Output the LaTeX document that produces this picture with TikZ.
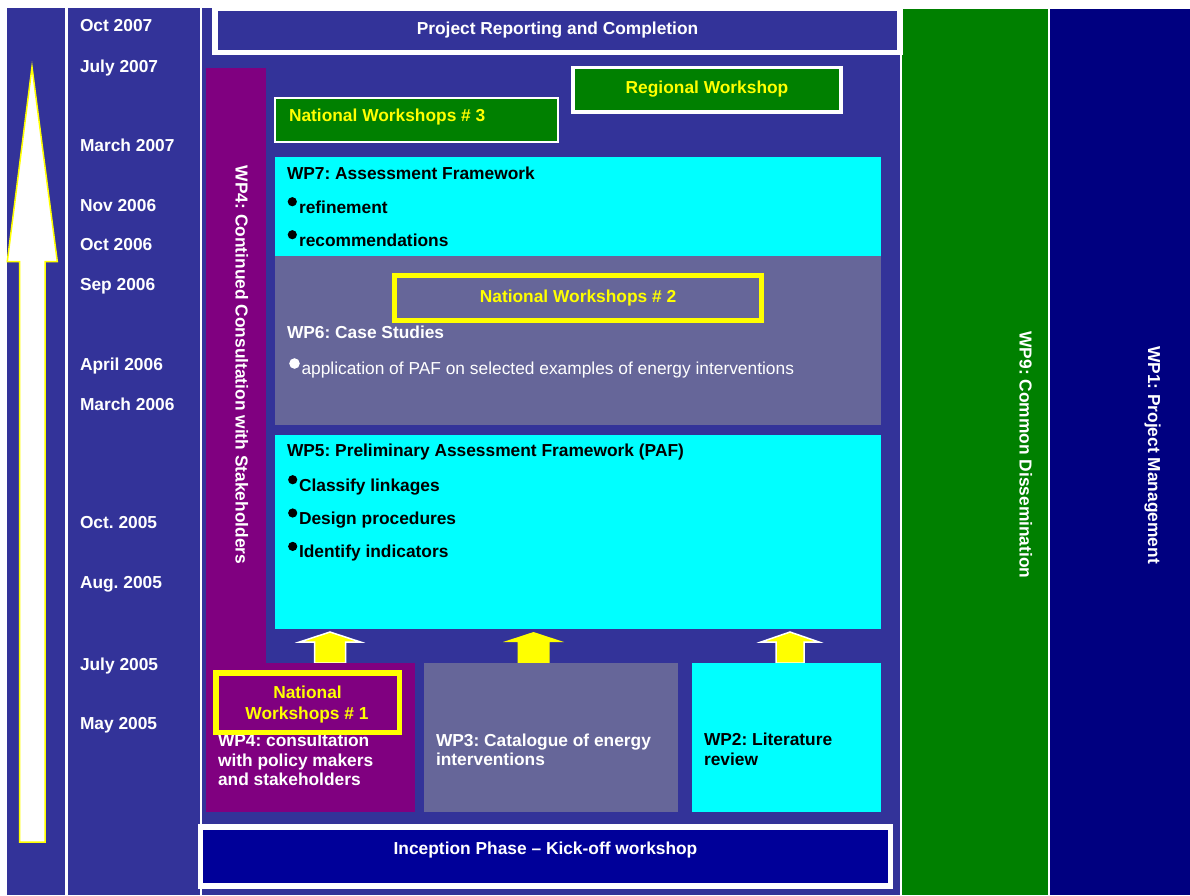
\documentclass[tikz,border=0pt]{standalone}
\usepackage{fontspec}
\setmainfont{Liberation Sans}
\usetikzlibrary{fit}

\definecolor{band}{HTML}{333399}
\definecolor{wppurple}{HTML}{800080}
\definecolor{wpcyan}{HTML}{00FFFF}
\definecolor{wpgrey}{HTML}{666699}
\definecolor{wpgreen}{HTML}{008000}
\definecolor{wpnavy}{HTML}{000080}
\definecolor{kickoff}{HTML}{000099}
\definecolor{hilite}{HTML}{FFFF00}

% upward block arrow: centre x, half head width, half shaft width, style
\newcommand\blockup[4]{%
  \filldraw[#4] (#1-#3,663) -- (#1-#3,642) -- (#1-#2,642) -- (#1,632)
    -- (#1+#2,642) -- (#1+#3,642) -- (#1+#3,663) -- cycle;}

\newcommand\labelsize{\fontsize{17.35}{20}\selectfont}

\begin{document}
\frenchspacing
\begin{tikzpicture}[x=1pt,y=-1pt,
  every node/.style={inner sep=0pt, outer sep=0pt},
  area/.style={fill=#1},
  lbl/.style={font=\labelsize\bfseries, text=white},
  dark/.style={font=\labelsize\bfseries, text=black},
  plain/.style={font=\labelsize, text=white},
  event/.style={font=\labelsize\bfseries, text=hilite},
  datelbl/.style={lbl, anchor=base west},
  vertlbl/.style={lbl, rotate=-90, anchor=base},
  ringbox/.style={draw=hilite, line width=5.5pt, fill=#1},
  flowarrow/.style={fill=hilite, draw=white, line width=1.5pt},
  flowarrowplain/.style={fill=hilite, draw=none},
  dot/.style={fill=#1}
]
\useasboundingbox[fill=white] (0,0) rectangle (1190,895);

% vertical bands
\node[fit={(7,8) (65,895)}, area=band] (arrowcol) {};
\node[fit={(68,8) (200,895)}, area=band] (datecol) {};
\node[fit={(202,8) (900,895)}, area=band] (maincol) {};
\node[fit={(902,9) (1048,895)}, area=wpgreen] (wp9) {};
\node[fit={(1050,9) (1190,895)}, area=wpnavy] (wp1) {};

% time arrow
\filldraw[fill=white, draw=hilite, line width=1.5pt]
  (32,67) -- (57.3,261.5) -- (45,261.5) -- (45,842) -- (19.5,842)
  -- (19.5,261.5) -- (7.3,261.5) -- cycle;

% dates
\node[datelbl] (d1)  at (80,31.5)  {Oct 2007};
\node[datelbl] (d2)  at (80,72)    {July 2007};
\node[datelbl] (d3)  at (80,151.5) {March 2007};
\node[datelbl] (d4)  at (80,211)   {Nov 2006};
\node[datelbl] (d5)  at (80,250.5) {Oct 2006};
\node[datelbl] (d6)  at (80,290.5) {Sep 2006};
\node[datelbl] (d7)  at (80,370.5) {April 2006};
\node[datelbl] (d8)  at (80,410.5) {March 2006};
\node[datelbl] (d9)  at (80,528.5) {Oct. 2005};
\node[datelbl] (d10) at (80,588.5) {Aug. 2005};
\node[datelbl] (d11) at (80,670)   {July 2005};
\node[datelbl] (d12) at (80,729)   {May 2005};

% reporting
\node[fit={(212,8) (903,55)}, area=white] (reportframe) {};
\node[fit={(218,11) (897,50)}, area=band] (report) {};
\node[lbl, anchor=base] (reporttxt) at (557.5,34) {Project Reporting and Completion};

% workshops near the end
\node[fit={(571,66) (843,114)}, area=white] (regframe) {};
\node[fit={(575,69) (839,110)}, area=wpgreen] (regional) {};
\node[event, anchor=base] (regtxt) at (707,93) {Regional Workshop};

\node[fit={(274,97) (559,143)}, area=white] (nw3frame) {};
\node[fit={(276,99) (557,141)}, area=wpgreen] (nw3) {};
\node[event, anchor=base west] (nw3txt) at (289,121.5) {National Workshops \# 3};

% WP4 consultation band
\node[fit={(206,68) (266,664)}, area=wppurple] (wp4bar) {};
\node[vertlbl] (wp4vert) at (235.5,365) {WP4: Continued Consultation with Stakeholders};

% WP7
\node[fit={(275,157) (881,256)}, area=wpcyan] (wp7) {};
\node[dark, anchor=base west] (wp7t) at (287,179) {WP7: Assessment Framework};
\fill[dot=black] (292.3,201.7) circle (4.6);
\node[dark, anchor=base west] (wp7a) at (299,213) {refinement};
\fill[dot=black] (292.3,234.7) circle (4.6);
\node[dark, anchor=base west] (wp7b) at (299,246) {recommendations};

% WP6
\node[fit={(275,256) (881,425)}, area=wpgrey] (wp6) {};
\node[fit={(394.5,275.5) (761.5,320.5)}, ringbox=wpgrey, line width=5pt] (nw2) {};
\node[event, anchor=base] (nw2txt) at (578,302.5) {National Workshops \# 2};
\node[lbl, anchor=base west] (wp6t) at (287,338) {WP6: Case Studies};
\fill[dot=white] (294.5,363.5) circle (5.3);
\node[plain, anchor=base west] (wp6a) at (301.5,374) {application of PAF on selected examples of energy interventions};

% WP5
\node[fit={(275,435) (881,629)}, area=wpcyan] (wp5) {};
\node[dark, anchor=base west] (wp5t) at (287,456.7) {WP5: Preliminary Assessment Framework (PAF)};
\fill[dot=black] (292.7,479.7) circle (4.6);
\node[dark, anchor=base west] (wp5a) at (299,491) {Classify linkages};
\fill[dot=black] (292.7,513) circle (4.6);
\node[dark, anchor=base west] (wp5b) at (299,524.3) {Design procedures};
\fill[dot=black] (292.7,546.4) circle (4.6);
\node[dark, anchor=base west] (wp5c) at (299,557.7) {Identify indicators};

% inputs feeding WP5
\blockup{330}{30.5}{15.5}{flowarrow}
\blockup{533.5}{30.5}{16}{flowarrowplain}
\blockup{790}{29}{14}{flowarrow}

% first-phase work packages
\node[fit={(206,663) (415,812)}, area=wppurple] (wp4) {};
\node[lbl, anchor=base west] (wp4l1) at (218,746) {WP4: consultation};
\node[lbl, anchor=base west] (wp4l2) at (218,766) {with policy makers};
\node[lbl, anchor=base west] (wp4l3) at (218,785.5) {and stakeholders};
\node[fit={(215.75,672.75) (399.25,732.25)}, ringbox=wppurple] (nw1) {};
\node[event, anchor=base] (nw1a) at (307.5,698) {National};
\node[event, anchor=base] (nw1b) at (307,719) {Workshops \# 1};

\node[fit={(424,663) (678,812)}, area=wpgrey] (wp3) {};
\node[lbl, anchor=base west] (wp3l1) at (436,746) {WP3: Catalogue of energy};
\node[lbl, anchor=base west] (wp3l2) at (436,765.5) {interventions};

\node[fit={(692,663) (881,812)}, area=wpcyan] (wp2) {};
\node[dark, anchor=base west] (wp2l1) at (704,745) {WP2: Literature};
\node[dark, anchor=base west] (wp2l2) at (704,765) {review};

% inception
\node[fit={(198,824) (893,889)}, area=white] (incframe) {};
\node[fit={(203,830) (888,883)}, area=kickoff] (inception) {};
\node[lbl, anchor=base] (inctxt) at (545.5,854) {Inception Phase – Kick-off workshop};

% cross-cutting packages
\node[vertlbl] (wp9txt) at (1019.5,455) {WP9: Common Dissemination};
\node[vertlbl] (wp1txt) at (1148,455) {WP1: Project Management};

\end{tikzpicture}
\end{document}
